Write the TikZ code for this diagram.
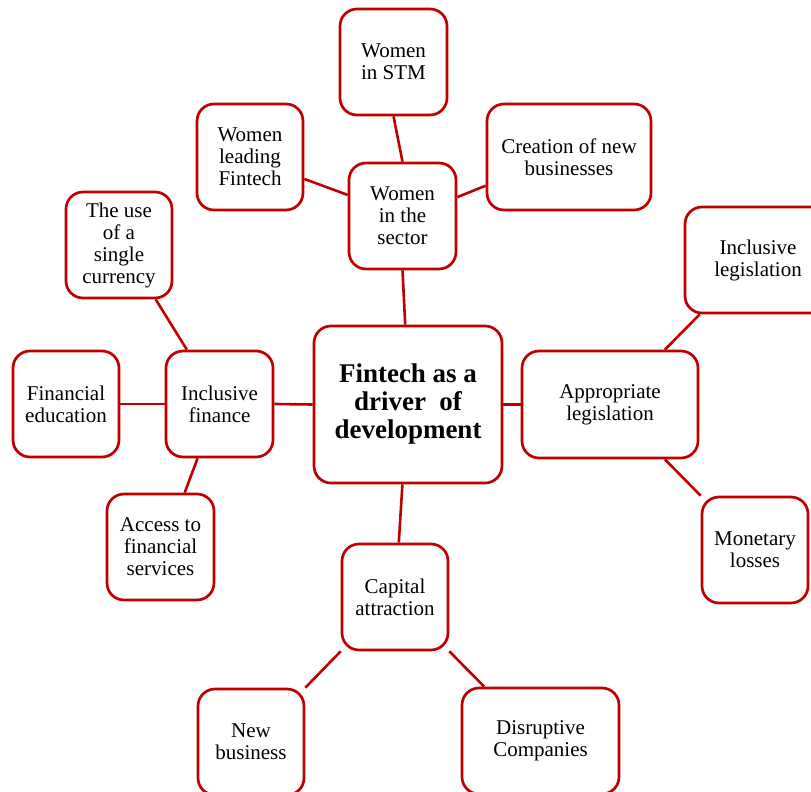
\documentclass[tikz,border=0pt]{standalone}
\usepackage{fontspec}
\setmainfont{Liberation Serif}
\usepackage{tikz}
\usetikzlibrary{positioning}
\definecolor{boxred}{RGB}{192,0,0}

\begin{document}
\begin{tikzpicture}[x=1pt, y=-1pt,
    every node/.style={font=\fontsize{21}{22}\selectfont, align=center},
    box/.style={draw=boxred, line width=2.7pt, fill=white, rounded corners=17pt, inner sep=2pt},
    link/.style={boxred, line width=2.6pt}]
    \clip (0,0) rectangle (811,792);
    % centre
    \node[box, minimum width=188pt, minimum height=157pt, font=\fontsize{27}{28}\selectfont\bfseries] (core) at (408,404.5) {Fintech as a\\driver~ of\\development};
    % women branch
    \node[box, minimum width=107pt, minimum height=106pt] (sector) at (402.5,216) {Women\\in the\\sector};
    \node[box, minimum width=107pt, minimum height=106pt] (stm) at (393.5,62) {Women\\in STM};
    \node[box, minimum width=106pt, minimum height=106pt] (leading) at (250,157) {Women\\leading\\Fintech};
    \node[box, minimum width=164pt, minimum height=106pt] (creation) at (569,157) {Creation of new\\businesses};
    % finance branch
    \node[box, minimum width=107pt, minimum height=106pt] (incfin) at (219.5,404) {Inclusive\\finance};
    \node[box, minimum width=106pt, minimum height=106pt] (education) at (66,404) {Financial\\education};
    \node[box, minimum width=106pt, minimum height=106pt] (currency) at (119,245) {The use\\of a\\single\\currency};
    \node[box, minimum width=107pt, minimum height=106pt] (access) at (160.5,547) {Access to\\financial\\services};
    % legislation branch
    \node[box, minimum width=176pt, minimum height=107pt] (approp) at (610,404.5) {Appropriate\\legislation};
    \node[box, minimum width=146pt, minimum height=106pt] (inclegis) at (758,260) {Inclusive\\legislation};
    \node[box, minimum width=106pt, minimum height=106pt] (losses) at (755,550) {Monetary\\losses};
    % capital branch
    \node[box, minimum width=106pt, minimum height=106pt] (capital) at (395,597) {Capital\\attraction};
    \node[box, minimum width=106pt, minimum height=106pt] (newbiz) at (251,742) {New\\business};
    \node[box, minimum width=157pt, minimum height=106pt] (disrupt) at (540.5,741) {Disruptive\\Companies};

    \draw[link] (core.92) -- (sector.south);
    \draw[link] (sector.north) -- (stm.south);
    \draw[link] (leading.-22) -- (sector.159);
    \draw[link] (sector.19) -- (creation.199.5);
    \draw[link] (core.west) -- (incfin.east);
    \draw[link] (incfin.west) -- (education.east);
    \draw[link] (incfin.121.5) -- (currency.-56.6);
    \draw[link] (incfin.248) -- (access.66);
    \draw[link] (core.east) -- (approp.west);
    \draw[link] (approp.45) -- (inclegis.223.4);
    \draw[link] (approp.-45) -- (losses.north west);
    \draw[link] (core.-94) -- (capital.86);
    \draw[link] (capital.south west) -- (newbiz.north east);
    \draw[link] (capital.south east) -- (disrupt.136);
\end{tikzpicture}
\end{document}
